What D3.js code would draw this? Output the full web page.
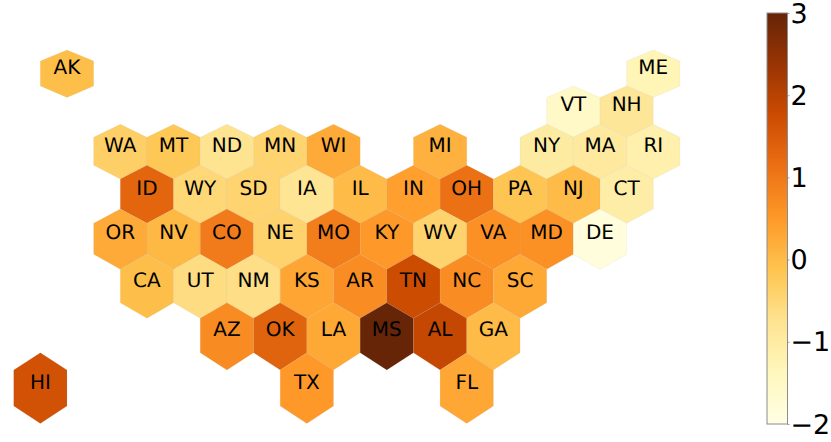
<!DOCTYPE html>
<html>
<head>
<meta charset="utf-8">
<script src="https://cdn.jsdelivr.net/npm/d3@7"></script>
<style>
  html, body { margin: 0; padding: 0; background: #fff; }
  text { font-family: "DejaVu Sans", sans-serif; text-rendering: geometricPrecision; }
</style>
</head>
<body>
<script>
// tile map of the states, grid position + value
const states = ["AK","ME","VT","NH","WA","MT","ND","MN","WI","MI","NY","MA","RI","ID","WY","SD","IA","IL","IN","OH","PA","NJ","CT","OR","NV","CO","NE","MO","KY","WV","VA","MD","DE","CA","UT","NM","KS","AR","TN","NC","SC","AZ","OK","LA","MS","AL","GA","HI","TX","FL"];
const gridCols = [2,24,21,23,4,6,8,10,12,16,20,22,24,5,7,9,11,13,15,17,19,21,23,4,6,8,10,12,14,16,18,20,22,5,7,9,11,13,15,17,19,8,10,12,14,16,18,1,11,17];
const gridRows = [0,0,1,1,2,2,2,2,2,2,2,2,2,3,3,3,3,3,3,3,3,3,3,4,4,4,4,4,4,4,4,4,4,5,5,5,5,5,5,5,5,6,6,6,6,6,6,7,7,7];
const values = [-0.05,-1.3,-1.55,-0.85,-0.35,-0.2,-0.75,-0.45,0.25,0.15,-1.0,-0.95,-1.15,1.3,-0.5,-0.45,-0.8,0.0,0.42,1.12,-0.15,0.0,-1.05,0.25,0.05,0.95,-0.4,0.92,0.5,-0.42,0.62,0.62,-1.85,-0.05,-0.6,-0.65,0.32,0.68,1.75,0.68,0.28,0.7,1.35,0.28,3.0,1.85,0.0,1.65,0.5,0.3];

const colorTicks = [-2,-1,0,1,2,3];
const ylOrBr = ["#ffffe5","#fff7bc","#fee391","#fec44f","#fe9929","#ec7014","#cc4c02","#993404","#662506"];

const width = 831;
const height = 442;

const color = d3.scaleLinear()
    .domain(ylOrBr.map((c, i) => -2 + 5 * i / (ylOrBr.length - 1)))
    .range(ylOrBr);

const x = d3.scaleLinear().domain([0, 24]).range([13.7, 653.3]);

// the map is projected so rows get taller going south, hence a stepped y scale
const yLevelPx = [50, 61, 86, 97.5, 124.3, 137.3, 165.3, 179, 209, 223.3, 254.3, 269.3, 302.7, 318.3, 352.7, 370, 406, 423.5];
const y = d3.scaleLinear().domain(yLevelPx.map((d, i) => i)).range(yLevelPx);

const hexPath = (c, r) => {
    const l = 2 * r;
    return d3.line()([
        [x(c), y(l)], [x(c + 1), y(l + 1)], [x(c + 1), y(l + 2)],
        [x(c), y(l + 3)], [x(c - 1), y(l + 2)], [x(c - 1), y(l + 1)]
    ]) + "Z";
};

const svg = d3.select("body").append("svg")
    .attr("width", width)
    .attr("height", height)
    .style("display", "block");

svg.selectAll(".hex")
    .data(states)
    .enter()
    .append("path")
    .attr("class", "hex")
    .attr("d", (s, i) => hexPath(gridCols[i], gridRows[i]))
    .attr("fill", (s, i) => color(values[i]))
    .attr("stroke", "#aaa")
    .attr("stroke-opacity", 0.18)
    .attr("stroke-width", 0.6);

svg.selectAll(".label")
    .data(states)
    .enter()
    .append("text")
    .attr("class", "label")
    .attr("x", (s, i) => x(gridCols[i]))
    .attr("y", (s, i) => (y(2 * gridRows[i] + 1) + y(2 * gridRows[i] + 2)) / 2 - 6.5)
    .attr("text-anchor", "middle")
    .attr("dominant-baseline", "central")
    .attr("font-size", 20)
    .attr("fill", "#000")
    .text(s => s);

// colour bar
const barY = d3.scaleLinear().domain([-2, 3]).range([424, 13]);
const barLeft = 767;
const barWidth = 20.5;

const grad = svg.append("defs").append("linearGradient")
    .attr("id", "barGrad")
    .attr("x1", 0).attr("y1", 1).attr("x2", 0).attr("y2", 0);
grad.selectAll("stop")
    .data(ylOrBr)
    .enter()
    .append("stop")
    .attr("offset", (c, i) => i / (ylOrBr.length - 1))
    .attr("stop-color", c => c);

svg.append("rect")
    .attr("x", barLeft)
    .attr("y", barY(3))
    .attr("width", barWidth)
    .attr("height", barY(-2) - barY(3))
    .attr("fill", "url(#barGrad)")
    .attr("stroke", "#8c8c8c")
    .attr("stroke-width", 1);

const axis = svg.append("g")
    .attr("transform", `translate(${barLeft + barWidth},0)`)
    .call(d3.axisRight(barY).tickValues(colorTicks).tickSize(2).tickPadding(1).tickFormat(d3.format("d")));
axis.select(".domain").remove();
axis.selectAll("line").attr("stroke", "#888").attr("stroke-width", 0.8);
axis.selectAll("text")
    .attr("font-size", 27)
    .attr("font-family", "DejaVu Sans")
    .attr("dy", "0.34em")
    .attr("fill", "#000");
</script>
</body>
</html>
